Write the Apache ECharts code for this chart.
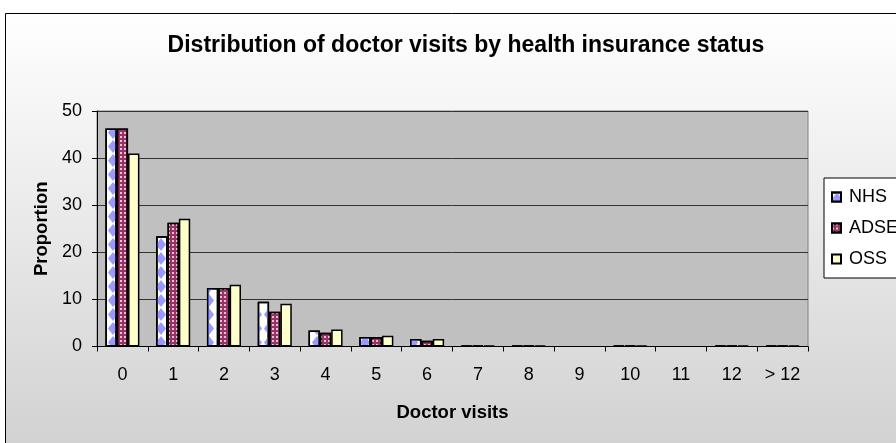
<!DOCTYPE html>
<html>
<head>
<meta charset="utf-8">
<script src="https://cdn.jsdelivr.net/npm/echarts@6/dist/echarts.min.js"></script>
<style>
html, body { margin: 0; padding: 0; background: #fff; overflow: hidden; }
#chart { width: 896px; height: 443px; }
</style>
</head>
<body>
<div id="chart"></div>
<script>
var visits = ['0', '1', '2', '3', '4', '5', '6', '7', '8', '9', '10', '11', '12', '> 12'];
var nhsData = [46.3, 23.4, 12.4, 9.5, 3.4, 2.0, 1.6, 0.2, 0.2, 0, 0.2, 0, 0.2, 0.2];
var adseData = [46.3, 26.3, 12.4, 7.4, 2.9, 2.0, 1.2, 0.2, 0.2, 0, 0.2, 0, 0.2, 0.2];
var ossData = [41.0, 27.1, 13.1, 9.1, 3.6, 2.3, 1.6, 0.2, 0.2, 0, 0.2, 0, 0.2, 0.2];

var chartDom = document.getElementById('chart');
var myChart = echarts.init(chartDom);
var font = 'Arial, "Liberation Sans", sans-serif';

// zero-height bars get no outline, so empty categories stay empty
function barItems(values) {
    return values.map(function (v) {
        return v === 0 ? { value: v, itemStyle: { borderWidth: 0 } } : v;
    });
}

var option = {
    backgroundColor: '#ffffff',
    animation: false,
    graphic: [
        {
            type: 'rect',
            z: -10,
            silent: true,
            shape: { x: 5.5, y: 13.5, width: 1000, height: 500 },
            style: {
                fill: new echarts.graphic.LinearGradient(0, 13, 0, 443, [
                    { offset: 0, color: '#ffffff' },
                    { offset: 1, color: '#d2d2d2' }
                ], true),
                stroke: '#000000',
                lineWidth: 1
            }
        }
    ],
    title: {
        text: 'Distribution of doctor visits by health insurance status',
        left: 461,
        top: 29,
        textAlign: 'center',
        textStyle: {
            fontFamily: font,
            fontSize: 23,
            fontWeight: 'bold',
            color: '#000'
        }
    },
    legend: {
        orient: 'vertical',
        left: 824,
        top: 178,
        padding: [9, 40, 9, 7],
        itemGap: 11,
        itemWidth: 9,
        itemHeight: 9,
        icon: 'rect',
        backgroundColor: '#ffffff',
        borderColor: '#000000',
        borderWidth: 1,
        borderRadius: 0,
        textStyle: {
            fontFamily: font,
            fontSize: 18,
            lineHeight: 20,
            color: '#000',
            padding: [0, 0, 0, 3]
        },
        data: ['NHS', 'ADSE', 'OSS']
    },
    grid: {
        left: 97,
        right: 88,
        top: 111,
        bottom: 96.5,
        show: true,
        backgroundColor: '#c0c0c0',
        borderColor: '#808080',
        borderWidth: 1
    },
    xAxis: {
        type: 'category',
        data: visits,
        name: 'Doctor visits',
        nameLocation: 'middle',
        nameGap: 57,
        nameTextStyle: {
            fontFamily: font,
            fontSize: 18.5,
            fontWeight: 'bold',
            color: '#000'
        },
        axisLine: { lineStyle: { color: '#000', width: 1 } },
        axisTick: { show: true, length: 5, lineStyle: { color: '#000' } },
        axisLabel: {
            fontFamily: font,
            fontSize: 18,
            color: '#000',
            margin: 20
        }
    },
    yAxis: {
        type: 'value',
        min: 0,
        max: 50,
        interval: 10,
        name: 'Proportion',
        nameLocation: 'middle',
        nameGap: 43,
        nameTextStyle: {
            fontFamily: font,
            fontSize: 18.5,
            fontWeight: 'bold',
            color: '#000'
        },
        axisLine: { show: true, lineStyle: { color: '#000', width: 1 } },
        axisTick: { show: true, length: 5, lineStyle: { color: '#000' } },
        axisLabel: {
            fontFamily: font,
            fontSize: 18,
            color: '#000',
            margin: 15
        },
        splitLine: { show: true, lineStyle: { color: '#333333', width: 1 } }
    },
    series: [
        {
            name: 'NHS',
            type: 'bar',
            data: barItems(nhsData),
            barGap: '0%',
            barCategoryGap: '33%',
            itemStyle: {
                color: '#ffffff',
                borderColor: '#000',
                borderWidth: 1.5,
                decal: {
                    symbol: 'diamond',
                    color: '#9999ff',
                    symbolSize: 1,
                    dashArrayX: [10, 2],
                    dashArrayY: [13, 1],
                    rotation: 0
                }
            }
        },
        {
            name: 'ADSE',
            type: 'bar',
            data: barItems(adseData),
            itemStyle: {
                color: '#993366',
                borderColor: '#000',
                borderWidth: 1.5,
                decal: {
                    symbol: 'rect',
                    color: 'rgba(255,225,240,0.8)',
                    symbolSize: 1,
                    dashArrayX: [2, 2],
                    dashArrayY: [2, 2],
                    rotation: 0
                }
            }
        },
        {
            name: 'OSS',
            type: 'bar',
            data: barItems(ossData),
            itemStyle: {
                color: '#ffffcc',
                borderColor: '#000',
                borderWidth: 1.5
            }
        }
    ]
};

option && myChart.setOption(option);
</script>
</body>
</html>
